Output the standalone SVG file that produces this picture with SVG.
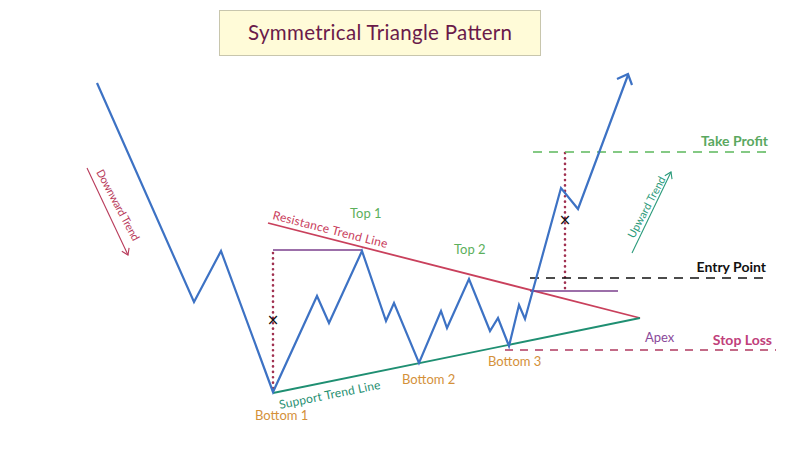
<svg xmlns="http://www.w3.org/2000/svg" width="800" height="460" viewBox="0 0 800 460">
<defs>
<style>
text{font-family:"Lato","Open Sans","Liberation Sans",sans-serif}
.lbl{font-size:13px}
.b{font-weight:bold;font-size:14px}
.price{fill:none;stroke:#3d72c4;stroke-width:2.2;stroke-linejoin:miter}
.dot{stroke:#a03050;stroke-width:2.6;stroke-dasharray:0.1 5.3;stroke-linecap:round;fill:none}
.hl{stroke:#7b3f8c;stroke-width:1.3}
.x{font-family:"DejaVu Sans",sans-serif;font-size:15px;fill:#111}
</style>
<marker id="ahR" markerWidth="10" markerHeight="10" refX="8" refY="5" orient="auto" markerUnits="userSpaceOnUse">
<path d="M2,1 L8,5 L2,9" fill="none" stroke="#b83a5a" stroke-width="1.1"/>
</marker>
<marker id="ahG" markerWidth="10" markerHeight="10" refX="8" refY="5" orient="auto" markerUnits="userSpaceOnUse">
<path d="M2,1 L8,5 L2,9" fill="none" stroke="#2a9a7a" stroke-width="1.1"/>
</marker>
</defs>
<rect width="800" height="460" fill="#ffffff"/>

<g id="title">
<rect x="219.5" y="10.5" width="321" height="45" fill="#fffbd8" stroke="#c8c6ad" stroke-width="1"/>
<text x="380" y="40" text-anchor="middle" font-size="20.5" fill="#6a1a4a" textLength="264">Symmetrical Triangle Pattern</text>
</g>

<g id="connectors">
<line id="resistance" x1="268" y1="223" x2="640" y2="318" stroke="#c9405c" stroke-width="1.8"/>
<line id="support" x1="273" y1="393" x2="640" y2="318" stroke="#1f8f72" stroke-width="1.8"/>
<line x1="273" y1="250" x2="362" y2="250" class="hl"/>
<line x1="530" y1="291" x2="618" y2="291" class="hl"/>
<line x1="273" y1="253" x2="273" y2="390" class="dot"/>
<line x1="565" y1="153" x2="565" y2="290" class="dot"/>
<line x1="533" y1="152" x2="770" y2="152" stroke="#5cb85c" stroke-width="1.6" stroke-dasharray="9 7"/>
<line x1="530" y1="278" x2="768" y2="278" stroke="#111" stroke-width="1.6" stroke-dasharray="9 7"/>
<line x1="505" y1="350" x2="776" y2="350" stroke="#b03a60" stroke-width="1.4" stroke-dasharray="8 7"/>
<polyline class="price" points="97,83 194,302 221,251 273,392 317,296 329,323 362,251 386,321 394,303 419,363 441,311 447,328 469,279 490,331 498,318 509,346 519,305 525,319 561,188 578,209 628,75"/>
<path d="M617,79 L628,74 L632,85" fill="none" stroke="#3d72c4" stroke-width="2.2"/>
<line x1="87" y1="168" x2="128" y2="255" stroke="#b83a5a" stroke-width="1.1" marker-end="url(#ahR)"/>
<line x1="632" y1="253" x2="671" y2="172" stroke="#2a9a7a" stroke-width="1.1" marker-end="url(#ahG)"/>
</g>

<g id="marks">
<text x="273" y="325" class="x" text-anchor="middle">×</text>
<text x="565" y="225" class="x" text-anchor="middle">×</text>
</g>

<g id="labels">
<text x="350" y="218" class="lbl" fill="#5cb05c">Top 1</text>
<text x="454" y="254" class="lbl" fill="#5cb05c">Top 2</text>
<text x="255" y="420" class="lbl" fill="#d4913a">Bottom 1</text>
<text x="402" y="384" class="lbl" fill="#d4913a">Bottom 2</text>
<text x="488" y="366" class="lbl" fill="#d4913a">Bottom 3</text>
<text x="645" y="342" class="lbl" fill="#8a4a9a">Apex</text>
<text x="768" y="146" class="b" fill="#5aa860" text-anchor="end">Take Profit</text>
<text x="766" y="272" class="b" fill="#111" text-anchor="end">Entry Point</text>
<text x="772" y="345" class="b" fill="#c0407a" text-anchor="end">Stop Loss</text>
<text transform="translate(272,219) rotate(14.3)" font-size="12" fill="#c9405c" textLength="118">Resistance Trend Line</text>
<text transform="translate(280,409) rotate(-11.4)" font-size="12" fill="#1f8f72" textLength="103">Support Trend Line</text>
<text transform="translate(96,172) rotate(62)" font-size="11" fill="#b83a5a" textLength="79">Downward Trend</text>
<text transform="translate(634,239) rotate(-62)" font-size="11" fill="#2a9a7a" textLength="68">Upward Trend</text>
</g>
</svg>
